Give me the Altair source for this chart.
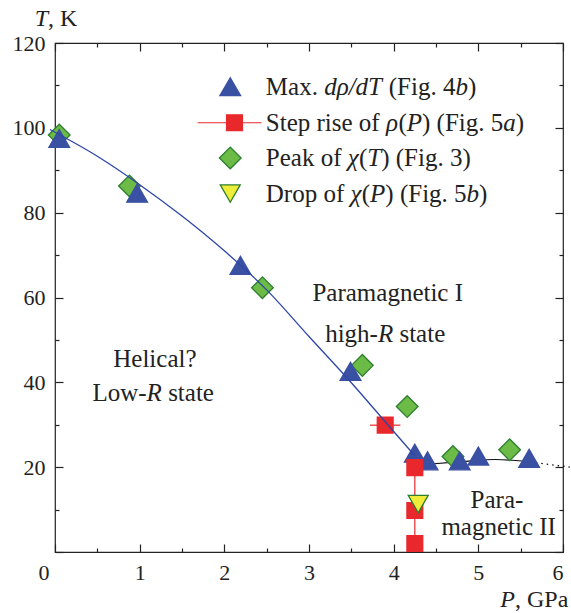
import altair as alt
import pandas as pd

FONT = "Liberation Serif"
INK = "#222222"
W, H = 508, 509

# ---------------- data ----------------
# Max. d rho / dT (Fig. 4b): blue up-triangles
tri_P = [0.05, 0.97, 2.19, 3.49, 4.25, 4.40, 4.78, 5.00, 5.60]
tri_T = [97.5, 84.6, 67.6, 42.6, 23.3, 21.5, 21.5, 22.6, 22.1]
# Step rise of rho(P) (Fig. 5a): red squares
sq_P = [3.90, 4.25, 4.25, 4.25]
sq_T = [29.9, 19.9, 9.8, 2.0]
sq_Perr = [0.18, 0.0, 0.0, 0.0]
# Peak of chi(T) (Fig. 3): green diamonds
dia_P = [0.05, 0.88, 2.45, 3.63, 4.16, 4.70, 5.37]
dia_T = [98.3, 86.3, 62.3, 44.0, 34.3, 22.5, 24.1]
# Drop of chi(P) (Fig. 5b): yellow down-triangle
drop_P = [4.29]
drop_T = [11.3]
# blue phase boundary
bl_P = [-0.06, 0.5, 1.0, 1.5, 2.0, 2.5, 3.0, 3.5, 4.0, 4.25]
bl_T = [99.6, 93.3, 86.6, 79.2, 71.0, 61.8, 50.8, 39.9, 28.4, 22.7]
# black PM I / PM II boundary (solid, then dotted)
bk_P = [4.40, 4.80, 5.20, 5.55]
bk_T = [20.7, 21.3, 21.8, 21.4]
bkd_P = [5.55, 6.08]
bkd_T = [21.4, 20.0]
# vertical red line through the step-rise squares
rl_P = [4.25, 4.25]
rl_T = [19.9, 2.0]

# texts ({...} = italic)
reg_text = ["Helical?", "Low-{R} state", "Paramagnetic I", "high-{R} state", "Para-", "magnetic II"]
reg_P = [1.18, 1.16, 3.93, 3.90, 5.22, 5.24]     # centre
reg_T = [43.5, 35.7, 59.1, 49.6, 10.4, 4.1]      # baseline

leg_text = ["Max. {dρ/dT} (Fig. 4{b})", "Step rise of {ρ}({P}) (Fig. 5{a})",
            "Peak of {χ}({T}) (Fig. 3)", "Drop of {χ}({P}) (Fig. 5{b})"]
leg_T = [109.7, 101.2, 92.9, 84.5]
leg_mark_P = [2.07, 2.12, 2.07, 2.07]
leg_text_P = 2.49
leg_line_P = [1.685, 2.44]

title_text = ["{T}, K", "{P}, GPa"]
title_P = [-0.24, 5.26]        # left edge
title_T = [124.1, -13.0]       # baseline

x_major = [0, 1, 2, 3, 4, 5, 6]
x_ticks = [0, 0.5, 1, 1.5, 2, 2.5, 3, 3.5, 4, 4.5, 5, 5.5, 6]
y_major = [0, 20, 40, 60, 80, 100, 120]
y_ticks = [0, 10, 20, 30, 40, 50, 60, 70, 80, 90, 100, 110, 120]

# ---------------- styles ----------------
BLUE = "#3a50a3"
BLUE_LINE = "#2d46a8"
RED = "#e8282b"
GREEN = "#6cbb46"
GREEN_EDGE = "#2b7f2e"
YELLOW = "#f0ec3a"
FS_TXT = 25

shape_of = {"tri": "triangle-up", "sq": "square", "dia": "diamond", "drop": "triangle-down"}
fill_of = {"tri": BLUE, "sq": RED, "dia": GREEN, "drop": YELLOW}
stroke_of = {"tri": BLUE, "sq": RED, "dia": GREEN_EDGE, "drop": GREEN_EDGE}
size_of = {"tri": 430, "sq": 250, "dia": 470, "drop": 400}

# Times / Liberation Serif advance widths (1/1000 em) used to butt roman and italic runs together
ROMAN = {" ": 250, "(": 333, ")": 333, ",": 250, "-": 333, ".": 250, "/": 278, "?": 444,
         "3": 500, "4": 500, "5": 500, "D": 722, "F": 556, "G": 722, "H": 722, "I": 333,
         "K": 722, "L": 611, "M": 889, "P": 556, "S": 556, "a": 444, "c": 444, "e": 444,
         "f": 333, "g": 500, "h": 500, "i": 278, "k": 500, "l": 278, "m": 778, "n": 500,
         "o": 500, "p": 500, "r": 333, "s": 389, "t": 278, "w": 722, "x": 500}
ITALIC = {"d": 500, "ρ": 500, "/": 278, "T": 556, "b": 500, "a": 500, "P": 611, "χ": 450, "R": 611}
PX_PER_P = W / 6.0


def runs(s):
    out, cur, it = [], "", False
    for ch in s:
        if ch in "{}":
            if cur:
                out.append((cur, it))
            cur, it = "", ch == "{"
        else:
            cur += ch
    if cur:
        out.append((cur, it))
    return out


def width(s, it, fs):
    tab = ITALIC if it else ROMAN
    return sum(tab.get(c, ROMAN.get(c, 500)) for c in s) * fs / 1000.0


def layout(texts, Ps, Ts, align, fs):
    rows = []
    for s, p, t in zip(texts, Ps, Ts):
        rs = runs(s)
        total = sum(width(r, it, fs) for r, it in rs)
        x = -total / 2 if align == "center" else 0.0
        for r, it in rs:
            lead = len(r) - len(r.lstrip(" "))
            rows.append(dict(txt=r.strip(" "), P=p + (x + width(" " * lead, False, fs)) / PX_PER_P,
                             T=t, it=int(it)))
            x += width(r, it, fs)
    return rows


rows = []
for key, Ps, Ts in [("dia", dia_P, dia_T), ("tri", tri_P, tri_T), ("sq", sq_P, sq_T), ("drop", drop_P, drop_T)]:
    for p, t in zip(Ps, Ts):
        rows.append(dict(P=p, T=t, shape=shape_of[key], fill=fill_of[key],
                         stroke=stroke_of[key], size=size_of[key]))
markers = pd.DataFrame(rows)

err = pd.DataFrame({"P": sq_P, "T": sq_T, "e": sq_Perr})
err = err[err.e > 0].assign(lo=lambda d: d.P - d.e, hi=lambda d: d.P + d.e)

keys = ["tri", "sq", "dia", "drop"]
legend_df = pd.DataFrame({
    "T": leg_T, "Pm": leg_mark_P,
    "shape": [shape_of[k] for k in keys], "fill": [fill_of[k] for k in keys],
    "stroke": [stroke_of[k] for k in keys], "size": [size_of[k] for k in keys],
})
leg_line = pd.DataFrame({"P": [leg_line_P[0]], "P2": [leg_line_P[1]], "T": [leg_T[1]]})

txt_mid = pd.DataFrame(layout(leg_text, [leg_text_P] * 4, leg_T, "left", FS_TXT))
txt_base = pd.DataFrame(layout(reg_text, reg_P, reg_T, "center", FS_TXT))
txt_title = pd.DataFrame(layout(title_text, title_P, title_T, "left", 24))

xs = alt.Scale(domain=[0, 6], nice=False, zero=False)
ys = alt.Scale(domain=[0, 120], nice=False, zero=False)


def cond(test, a, b):
    return {"condition": {"test": test, "value": a}, "value": b}


ax_x_lab = alt.Axis(orient="bottom", values=x_major, ticks=False, domain=False, grid=False,
                    labelFont=FONT, labelFontSize=22, labelColor=INK, labelPadding=10,
                    labelOffset=cond("datum.value === 0", -17, 0), format="d", title="")
ax_y_lab = alt.Axis(orient="left", values=y_major[1:], ticks=False, domain=False, grid=False,
                    labelFont=FONT, labelFontSize=22, labelColor=INK, labelPadding=10,
                    format="d", title="")


def tick_axis(orient, offset, values, major_test):
    return alt.Axis(orient=orient, offset=offset, values=values, labels=False, domain=False,
                    grid=False, title="", tickColor=INK, tickWidth=1.2,
                    tickSize=cond(major_test, 8, 4))


ax_x_bot = tick_axis("top", -H, x_ticks, "datum.value % 1 === 0")
ax_x_top = tick_axis("bottom", -H, x_ticks, "datum.value % 1 === 0")
ax_y_left = tick_axis("right", -W, y_ticks, "datum.value % 20 === 0")
ax_y_right = tick_axis("left", -W, y_ticks, "datum.value % 20 === 0")


def XY(xaxis=None, yaxis=None, x="P", y="T"):
    return dict(x=alt.X(f"{x}:Q", scale=xs, axis=xaxis), y=alt.Y(f"{y}:Q", scale=ys, axis=yaxis))


black = alt.Chart(pd.DataFrame({"P": bk_P, "T": bk_T})).mark_line(
    color="#111111", strokeWidth=1.1, interpolate="monotone").encode(**XY(ax_x_bot, ax_y_left))
black_dot = alt.Chart(pd.DataFrame({"P": bkd_P, "T": bkd_T})).mark_line(
    color="#111111", strokeWidth=1.3, strokeDash=[1.5, 4], clip=False).encode(**XY(ax_x_top, ax_y_right))
red_v = alt.Chart(pd.DataFrame({"P": rl_P, "T": rl_T})).mark_line(
    color=RED, strokeWidth=1.2).encode(**XY())
red_err = alt.Chart(err).mark_rule(color=RED, strokeWidth=1.2).encode(
    x=alt.X("lo:Q", scale=xs, axis=None), x2="hi:Q", y=alt.Y("T:Q", scale=ys, axis=None))
pts = alt.Chart(markers).mark_point(filled=True, opacity=1, strokeWidth=1.3).encode(
    **XY(),
    shape=alt.Shape("shape:N", scale=None),
    fill=alt.Fill("fill:N", scale=None),
    stroke=alt.Stroke("stroke:N", scale=None),
    size=alt.Size("size:Q", scale=None),
)
blue = alt.Chart(pd.DataFrame({"P": bl_P, "T": bl_T})).mark_line(
    color=BLUE_LINE, strokeWidth=1.3, interpolate="monotone", clip=False).encode(**XY(ax_x_lab, ax_y_lab))

leg_l = alt.Chart(leg_line).mark_rule(color=RED, strokeWidth=1.2).encode(
    x=alt.X("P:Q", scale=xs, axis=None), x2="P2:Q", y=alt.Y("T:Q", scale=ys, axis=None))
leg_pts = alt.Chart(legend_df).mark_point(filled=True, opacity=1, strokeWidth=1.3).encode(
    **XY(x="Pm"),
    shape=alt.Shape("shape:N", scale=None),
    fill=alt.Fill("fill:N", scale=None),
    stroke=alt.Stroke("stroke:N", scale=None),
    size=alt.Size("size:Q", scale=None),
)


def text_layers(df, baseline, fs):
    out = []
    for it, style in [(0, "normal"), (1, "italic")]:
        out.append(alt.Chart(df).transform_filter(f"datum.it == {it}").mark_text(
            font=FONT, fontSize=fs, fontStyle=style, color=INK, align="left",
            baseline=baseline).encode(**XY(), text="txt:N"))
    return out


txt_layers = (text_layers(txt_mid, "middle", FS_TXT) + text_layers(txt_base, "alphabetic", FS_TXT)
              + text_layers(txt_title, "alphabetic", 24))

chart = alt.layer(
    black, black_dot, red_v, red_err, pts, blue, leg_l, leg_pts, *txt_layers
).resolve_axis(x="independent", y="independent").properties(
    width=W, height=H,
    autosize=alt.AutoSizeParams(type="none"),
    padding={"left": 55, "top": 43, "right": 8, "bottom": 61},
    background="white",
).configure_view(stroke=INK, strokeWidth=1.2)

chart.save("out.html", embed_options={"renderer": "svg", "actions": False})
